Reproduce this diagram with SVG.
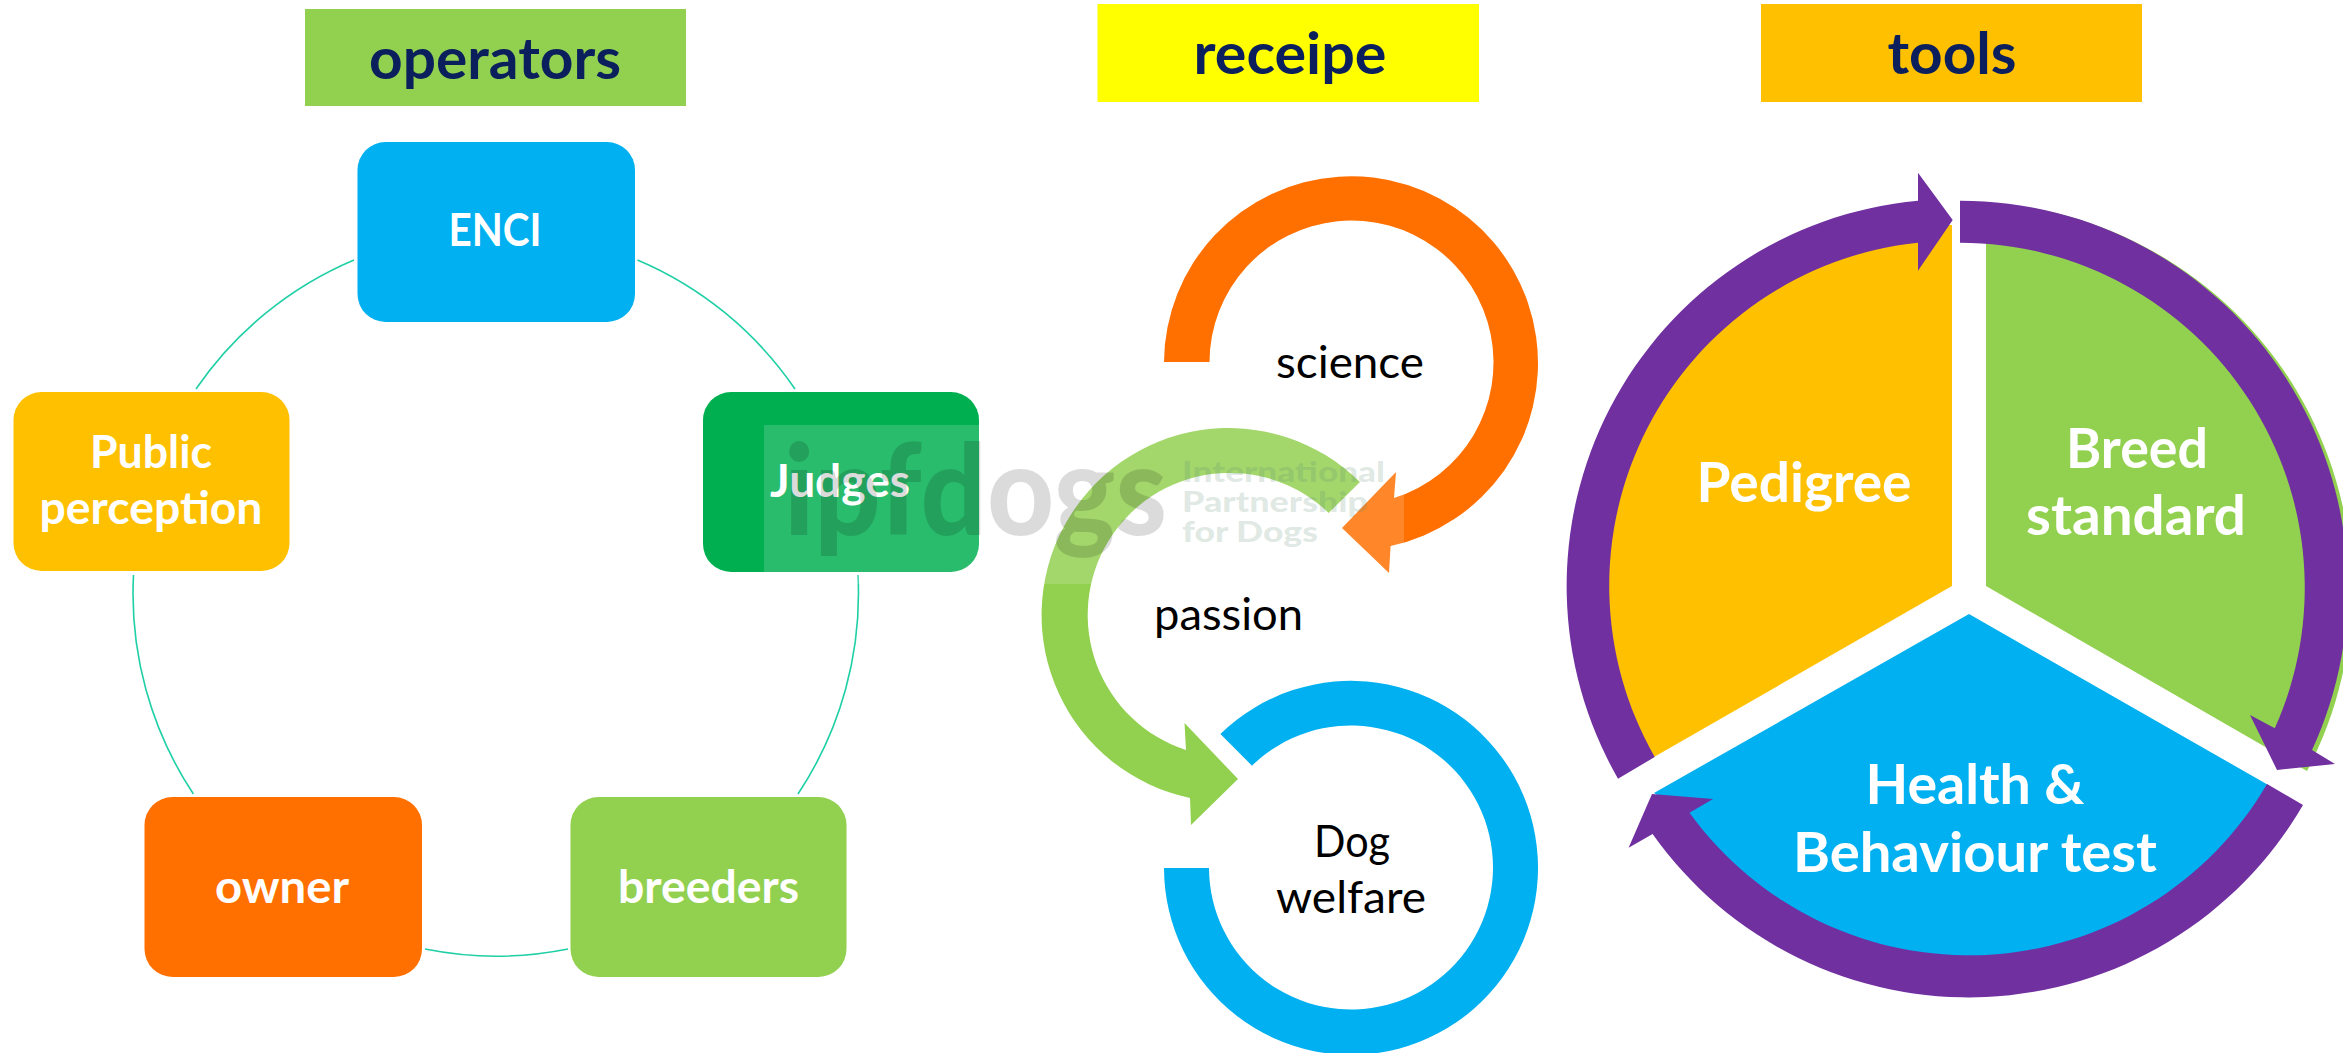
<svg xmlns="http://www.w3.org/2000/svg" width="2343" height="1053" viewBox="0 0 2343 1053">
<style>
text{font-family:"Lato","Carlito","Liberation Sans",sans-serif;text-anchor:middle}
.hd{font-weight:700;font-size:58px;fill:#0a1f5c}
.nl{font-weight:700;font-size:45px;fill:#fff}
.tl{font-weight:700;font-size:55px;fill:#fff}
.rl{font-weight:400;font-size:45px;fill:#000}
.wl{font-weight:900;text-anchor:start}
.conn{fill:none;stroke:#1fcfa5;stroke-width:1.6}
.ar{fill:#7030a0}
</style>
<rect width="2343" height="1053" fill="#fff"/>
<g id="connectors">
<path class="conn" d="M637.5 260A362.5 362.5 0 0 1 795 389"/>
<path class="conn" d="M858 575A362.5 362.5 0 0 1 798 794"/>
<path class="conn" d="M568 949A362.5 362.5 0 0 1 425 949"/>
<path class="conn" d="M193.4 794A362.5 362.5 0 0 1 133.5 575"/>
<path class="conn" d="M196 389A362.5 362.5 0 0 1 354 260"/>
</g>
<g id="header-operators"><rect x="305" y="9" width="381" height="97" fill="#92d050"/><text class="hd" x="495" y="79" textLength="252" lengthAdjust="spacingAndGlyphs">operators</text></g>
<g id="header-receipe"><rect x="1097.500" y="4" width="381.500" height="98" fill="#ff0"/><text class="hd" x="1290" y="74" textLength="193" lengthAdjust="spacingAndGlyphs">receipe</text></g>
<g id="header-tools"><rect x="1761" y="4" width="381" height="98" fill="#ffc000"/><text class="hd" x="1952" y="74" textLength="129" lengthAdjust="spacingAndGlyphs">tools</text></g>
<g id="node-enci"><rect x="357.500" y="142" width="277.500" height="180" rx="28" fill="#00b0f0"/><text class="nl" x="495" y="246" textLength="93" lengthAdjust="spacingAndGlyphs">ENCI</text></g>
<g id="node-judges"><rect x="703" y="392" width="276" height="180" rx="28" fill="#00b050"/><text class="nl" x="840" y="497" textLength="140" lengthAdjust="spacingAndGlyphs">Judges</text></g>
<g id="node-breeders"><rect x="570.500" y="797" width="276" height="180" rx="28" fill="#92d050"/><text class="nl" x="708.500" y="903" textLength="181" lengthAdjust="spacingAndGlyphs">breeders</text></g>
<g id="node-owner"><rect x="144.500" y="797" width="277.500" height="180" rx="28" fill="#ff7000"/><text class="nl" x="282" y="903" textLength="134" lengthAdjust="spacingAndGlyphs">owner</text></g>
<g id="node-public"><rect x="13.500" y="392" width="276" height="179" rx="28" fill="#ffc000"/><text class="nl" x="151" y="468" textLength="122" lengthAdjust="spacingAndGlyphs">Public</text><text class="nl" x="151" y="524" textLength="223" lengthAdjust="spacingAndGlyphs">perception</text></g>
<g id="cycle-science"><path fill="#ff7000" d="M1164 362A187 187 0 1 1 1390.600 546L1389 573L1342 528L1396 472L1394 498A142 142 0 1 0 1209.500 362Z"/><text class="rl" x="1350" y="378" textLength="148" lengthAdjust="spacingAndGlyphs">science</text></g>
<g id="cycle-passion"><path fill="#92d050" d="M1360 482A187 187 0 1 0 1190 798L1191 825L1238 779L1184.500 723L1186 750A142 142 0 1 1 1328.600 513Z"/><text class="rl" x="1228.500" y="630" textLength="149" lengthAdjust="spacingAndGlyphs">passion</text></g>
<g id="cycle-welfare"><path fill="#00b0f0" d="M1164 868A187 187 0 1 0 1220.400 734L1252 765.700A142 142 0 1 1 1209 868Z"/><text class="rl" x="1352" y="857" textLength="76" lengthAdjust="spacingAndGlyphs">Dog</text><text class="rl" x="1351" y="913" textLength="150" lengthAdjust="spacingAndGlyphs">welfare</text></g>
<g id="sector-breed"><path fill="#92d050" d="M1986 586V225L1964 202A388 388 0 0 1 2307 771Z"/><text class="tl" x="2137" y="468" textLength="142" lengthAdjust="spacingAndGlyphs">Breed</text><text class="tl" x="2136" y="535" textLength="220" lengthAdjust="spacingAndGlyphs">standard</text></g>
<g id="sector-pedigree"><path fill="#ffc000" d="M1952 586V225A350 350 0 0 0 1654 757Z"/><text class="tl" x="1804" y="502" textLength="215" lengthAdjust="spacingAndGlyphs">Pedigree</text></g>
<g id="sector-health"><path fill="#00b0f0" d="M1969 614L2270 786A349 349 0 0 1 1685 813L1654 793Z"/><text class="tl" x="1975" y="804" textLength="219" lengthAdjust="spacingAndGlyphs">Health &amp;</text><text class="tl" x="1975" y="872" textLength="364" lengthAdjust="spacingAndGlyphs">Behaviour test</text></g>
<g id="ring-arrows">
<path class="ar" d="M1618 778.700A387 387 0 0 1 1918 200.700V172.700L1952.700 220L1918 270.700V242.700A345 345 0 0 0 1654.700 757Z"/>
<path class="ar" d="M1960 200.700A387 387 0 0 1 2312 750L2335 764L2277 770L2250 715L2274.800 728.300A345 345 0 0 0 1960 242.700Z"/>
<path class="ar" d="M2303 805A387 387 0 0 1 1652.600 834L1628.600 847.700L1652 794L1713 799L1689.500 812.700A345 345 0 0 0 2267 784Z"/>
</g>
<g id="watermark">
<rect x="764" y="425" width="640" height="159" fill="#fff" fill-opacity=".16"/>
<text class="wl" x="784" y="535" font-size="125" textLength="383" lengthAdjust="spacingAndGlyphs" fill="#000" fill-opacity=".14">ipfdogs</text>
<text class="wl" x="1182" y="482" font-size="29" textLength="203" lengthAdjust="spacingAndGlyphs" fill="#5a8a70" fill-opacity=".2">International</text>
<text class="wl" x="1182" y="512" font-size="29" textLength="186" lengthAdjust="spacingAndGlyphs" fill="#5a8a70" fill-opacity=".2">Partnership</text>
<text class="wl" x="1182" y="542" font-size="29" textLength="136" lengthAdjust="spacingAndGlyphs" fill="#5a8a70" fill-opacity=".2">for Dogs</text>
</g>
</svg>
